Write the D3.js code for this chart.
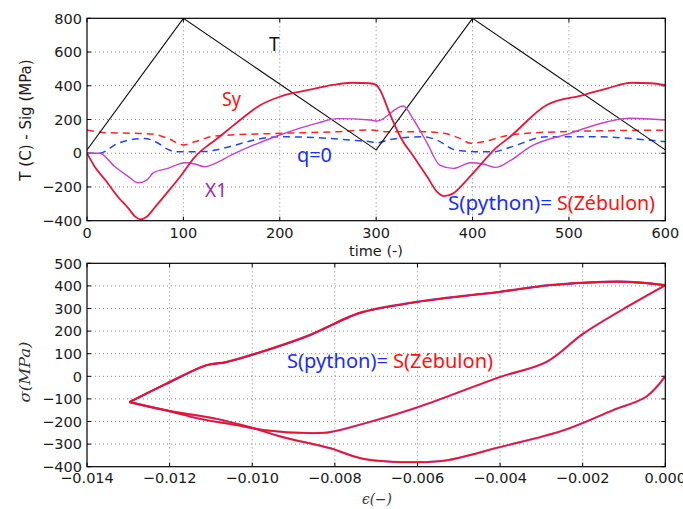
<!DOCTYPE html>
<html>
<head>
<meta charset="utf-8">
<script src="https://cdn.jsdelivr.net/npm/d3@7"></script>
<style>
  body { margin: 0; background: #fff; }
  svg { display: block; }
</style>
</head>
<body>
<div id="svg_canvas"></div>
<script>

// ---- data ----

// top panel : temperature and stresses vs time
var tempCurve = [[0,20],[100,800],[300,20],[400,800],[600,20]];

var syCurve = [[0,0],[8,-80],[19,-159],[32,-258],[43,-327],[50,-376],[55,-392],[62,-376],
  [71,-317],[84,-228],[98,-129],[112,-21],[126,49],[133,78],[152,165],[180,286],[200,335],
  [230,375],[255,405],[275,418],[293,415],[300,405],[304,375],[314,236],[325,98],[339,-21],
  [353,-139],[363,-228],[370,-254],[380,-238],[394,-159],[408,-70],[422,19],[439,98],
  [477,286],[515,345],[540,385],[565,418],[585,415],[600,404]];

var x1Curve = [[0,0],[13,0],[29,-80],[43,-139],[53,-175],[62,-159],[69,-115],[84,-90],
  [102,-56],[112,-64],[122,-80],[133,-60],[150,-10],[200,108],[238,177],[260,205],[294,197],
  [301,191],[328,280],[339,197],[353,59],[366,-70],[380,-90],[398,-56],[411,-64],[424,-84],
  [439,-44],[460,39],[501,118],[540,187],[563,207],[600,197]];

var qCurve = [[0,0],[13,0],[32,59],[60,88],[71,68],[84,23],[91,9],[125,10],[133,19],
  [200,98],[250,88],[273,78],[294,68],[301,62],[315,82],[349,98],[363,78],[380,23],[391,13],
  [411,9],[422,9],[439,35],[477,98],[522,98],[600,68]];

var rCurve = [[0,138],[19,122],[50,118],[67,114],[84,88],[100,49],[112,68],[133,102],
  [200,118],[260,128],[294,138],[311,128],[346,128],[370,118],[387,88],[398,59],[411,68],
  [439,108],[494,128],[600,137]];

// bottom panel : stress vs strain loop (branches A, B, C, then B again)
var branchA = [[0,0],[-0.00046,-90],[-0.00127,-150],[-0.00248,-240],[-0.0040,-313],
  [-0.0053,-372],[-0.00598,-380],[-0.00731,-365],[-0.00812,-318],
  [-0.00926,-269],[-0.01006,-225],[-0.01087,-188],[-0.01208,-151],[-0.01297,-114]];
var branchB = [[-0.01297,-114],[-0.01208,-33],[-0.01111,49],[-0.01063,63],[-0.00966,115],
  [-0.00861,182],[-0.00765,263],[-0.00731,285],[-0.00598,330],[-0.0040,374],[-0.0028,403],
  [-0.00151,418],[-0.00086,418],[0,403]];
var branchC = [[0,403],[-0.00086,314],[-0.00199,188],[-0.00288,63],[-0.0040,-3],
  [-0.00598,-136],[-0.00731,-210],[-0.00812,-247],[-0.00861,-251],[-0.00966,-239],
  [-0.01047,-213],[-0.01127,-188],[-0.01208,-151],[-0.01297,-114]];

var topXTicks = [0,100,200,300,400,500,600];
var topYTicks = [-400,-200,0,200,400,600,800];
var botXTicks = [-0.014,-0.012,-0.010,-0.008,-0.006,-0.004,-0.002,0];
var botYTicks = [-400,-300,-200,-100,0,100,200,300,400,500];

// ---- drawing ----

var svg = d3.select("#svg_canvas")
  .append("svg")
    .attr("width", 683)
    .attr("height", 509);

var tickFont = "DejaVu Sans, sans-serif";
var noteFont = "Noto Sans, Open Sans, sans-serif";

function panel(id, xDomain, yDomain, top, bottom, xTicks, yTicks, xFmt, xLabelY)
{
  var left = 87, right = 665.3;
  var x = d3.scaleLinear().domain(xDomain).range([left, right]);
  var y = d3.scaleLinear().domain(yDomain).range([bottom, top]);

  svg.append("clipPath").attr("id", id)
    .append("rect")
      .attr("x", left).attr("y", top)
      .attr("width", right - left).attr("height", bottom - top);

  var g = svg.append("g");

  // dotted grid
  g.selectAll(".gx").data(xTicks.slice(1, -1)).enter()
    .append("line")
      .attr("x1", function(d) { return x(d); })
      .attr("x2", function(d) { return x(d); })
      .attr("y1", top).attr("y2", bottom)
      .style("stroke", "#7a7a7a").style("stroke-width", 0.9)
      .style("stroke-dasharray", "1,3");
  g.selectAll(".gy").data(yTicks.slice(1, -1)).enter()
    .append("line")
      .attr("y1", function(d) { return y(d); })
      .attr("y2", function(d) { return y(d); })
      .attr("x1", left).attr("x2", right)
      .style("stroke", "#7a7a7a").style("stroke-width", 0.9)
      .style("stroke-dasharray", "1,3");

  // inner ticks on all four sides
  xTicks.forEach(function(d) {
    g.append("line").attr("x1", x(d)).attr("x2", x(d)).attr("y1", bottom).attr("y2", bottom - 4)
      .style("stroke", "#000");
    g.append("line").attr("x1", x(d)).attr("x2", x(d)).attr("y1", top).attr("y2", top + 4)
      .style("stroke", "#000");
  });
  yTicks.forEach(function(d) {
    g.append("line").attr("y1", y(d)).attr("y2", y(d)).attr("x1", left).attr("x2", left + 4)
      .style("stroke", "#000");
    g.append("line").attr("y1", y(d)).attr("y2", y(d)).attr("x1", right).attr("x2", right - 4)
      .style("stroke", "#000");
  });

  // tick labels
  g.selectAll(".xl").data(xTicks).enter()
    .append("text")
      .attr("x", function(d) { return x(d); })
      .attr("y", xLabelY)
      .attr("text-anchor", "middle")
      .style("font-family", tickFont).style("font-size", "14.5px").style("fill", "#1a1a1a")
      .text(function(d) { return xFmt(d); });
  g.selectAll(".yl").data(yTicks).enter()
    .append("text")
      .attr("x", 82)
      .attr("y", function(d) { return y(d); })
      .attr("dy", "0.36em")
      .attr("text-anchor", "end")
      .style("font-family", tickFont).style("font-size", "14.5px").style("fill", "#1a1a1a")
      .text(function(d) { return d3.format("d")(d); });

  var plot = svg.append("g").attr("clip-path", "url(#" + id + ")");

  return {x: x, y: y, g: g, plot: plot, left: left, right: right, top: top, bottom: bottom};
}

function frame(p)
{
  svg.append("rect")
    .attr("x", p.left).attr("y", p.top)
    .attr("width", p.right - p.left).attr("height", p.bottom - p.top)
    .style("fill", "none").style("stroke", "#000").style("stroke-width", 1.2);
}

function curve(p, pts, color, width, dash, kind)
{
  var line = d3.line()
    .curve(kind || d3.curveLinear)
    .x(function(d) { return p.x(d[0]); })
    .y(function(d) { return p.y(d[1]); });
  p.plot.append("path")
    .datum(pts)
    .attr("d", line)
    .style("fill", "none")
    .style("stroke", color)
    .style("stroke-width", width)
    .style("stroke-linejoin", "round")
    .style("stroke-dasharray", dash || null);
}

function note(x, y, txt, color, len)
{
  var t = svg.append("text")
    .attr("x", x).attr("y", y)
    .style("font-family", noteFont).style("font-size", "19px")
    .style("fill", color)
    .text(txt);
  if (len) t.attr("textLength", len).attr("lengthAdjust", "spacingAndGlyphs");
}

// top panel
var p1 = panel("clipTop", [0, 600], [-400, 800], 18.3, 220.7,
  topXTicks, topYTicks, d3.format("d"), 238);

var smooth = d3.curveMonotoneX;
curve(p1, rCurve, "#ff2424", 1.5, "7,5", smooth);
curve(p1, qCurve, "#2244ff", 1.5, "7,5", smooth);
curve(p1, tempCurve, "#111", 1.1);
curve(p1, x1Curve, "#c640cc", 1.4, null, smooth);
curve(p1, syCurve, "#e3173c", 1.8, null, smooth);
frame(p1);

svg.append("text")
  .attr("transform", "translate(31,120) rotate(-90)")
  .attr("text-anchor", "middle")
  .style("font-family", tickFont).style("font-size", "15px").style("fill", "#1a1a1a")
  .text("T (C) - Sig (MPa)");

svg.append("text")
  .attr("x", 376).attr("y", 256)
  .attr("text-anchor", "middle")
  .style("font-family", tickFont).style("font-size", "14.5px").style("fill", "#1a1a1a")
  .text("time (-)");

note(269, 51, "T", "#111");
note(222, 106, "Sy", "#ff1010", 19);
note(297, 162, "q=0", "#1a2cff", 35);
note(205, 197, "X1", "#a02aa8", 22);
note(448, 210, "S(python)=", "#1a2cff", 104);
note(557, 210, "S(Zébulon)", "#ff1010", 98);

// bottom panel
var p2 = panel("clipBot", [-0.014, 0], [-400, 500], 263.3, 466.7,
  botXTicks, botYTicks, d3.format(".3f"), 483);

// two overlapping results : python (blue, underneath) and Zebulon (red)
var loopParts = [branchA, branchB, branchC, branchB];
var cr = d3.curveCatmullRom.alpha(0.5);
loopParts.forEach(function(b) { curve(p2, b, "rgba(90,60,220,0.55)", 2.3, null, cr); });
loopParts.forEach(function(b) { curve(p2, b, "#f01028", 1.7, null, cr); });
frame(p2);

svg.append("text")
  .attr("transform", "translate(30,372) rotate(-90)")
  .attr("text-anchor", "middle")
  .attr("textLength", 61).attr("lengthAdjust", "spacingAndGlyphs")
  .style("font-family", "DejaVu Serif, serif").style("font-style", "italic")
  .style("font-size", "14px").style("fill", "#333")
  .text("σ(MPa)");

svg.append("text")
  .attr("x", 377).attr("y", 504)
  .attr("text-anchor", "middle")
  .attr("textLength", 30).attr("lengthAdjust", "spacingAndGlyphs")
  .style("font-family", "DejaVu Serif, serif").style("font-style", "italic")
  .style("font-size", "14px").style("fill", "#333")
  .text("ϵ(−)");

note(287, 368, "S(python)=", "#1a2cff", 101);
note(393, 368, "S(Zébulon)", "#ff1010", 100);

</script>
</body>
</html>
